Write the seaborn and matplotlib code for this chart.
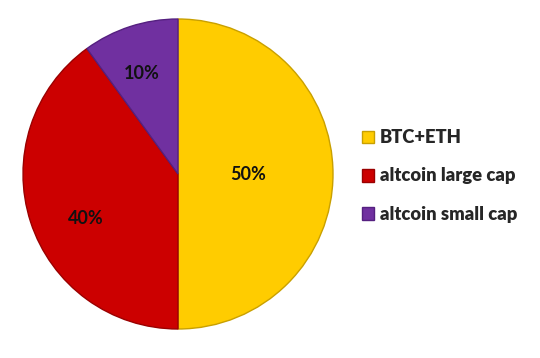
import matplotlib
matplotlib.use("Agg")
import matplotlib.pyplot as plt
import seaborn as sns
import numpy as np

categories = ["BTC+ETH", "altcoin large cap", "altcoin small cap"]
values = [50, 40, 10]
colors = ["#FFCC00", "#CC0000", "#7030A0"]
edge_colors = ["#C9A000", "#9A0000", "#552080"]
label_dist = [0.45, 0.66, 0.69]
label_angle = [0, -154, 110]

sns.set_theme(style="white")
plt.rcParams['font.family'] = ['Lato', 'DejaVu Sans']

fig = plt.figure(figsize=(5.4, 3.58), dpi=100)
fig.patch.set_facecolor("white")
ax = fig.add_axes([23/540, 29/358, 310/540, 310/358])
wedges, texts = ax.pie(values, colors=sns.color_palette(colors), startangle=90,
                       counterclock=False, radius=1.0,
                       wedgeprops=dict(linewidth=1.0))
for w, ec, d, a, v in zip(wedges, edge_colors, label_dist, label_angle, values):
    w.set_edgecolor(ec)
    ang = np.deg2rad(a)
    ax.text(d * np.cos(ang), d * np.sin(ang), f"{v}%", ha="center", va="center",
            fontsize=13, fontweight="bold", color="#111111")
ax.set_xlim(-1.0, 1.0)
ax.set_ylim(-1.0, 1.0)
ax.set_aspect("equal")
ax.axis("off")

leg = fig.legend(wedges, categories, loc="center left",
                 bbox_to_anchor=(345/540, 182/358), frameon=False,
                 prop=dict(family=['Lato', 'DejaVu Sans'], weight="heavy", size=13.2),
                 handlelength=0.7, handleheight=0.7, handletextpad=0.3,
                 labelspacing=1.15)
fig.savefig("out.png", dpi=100, facecolor="white")
